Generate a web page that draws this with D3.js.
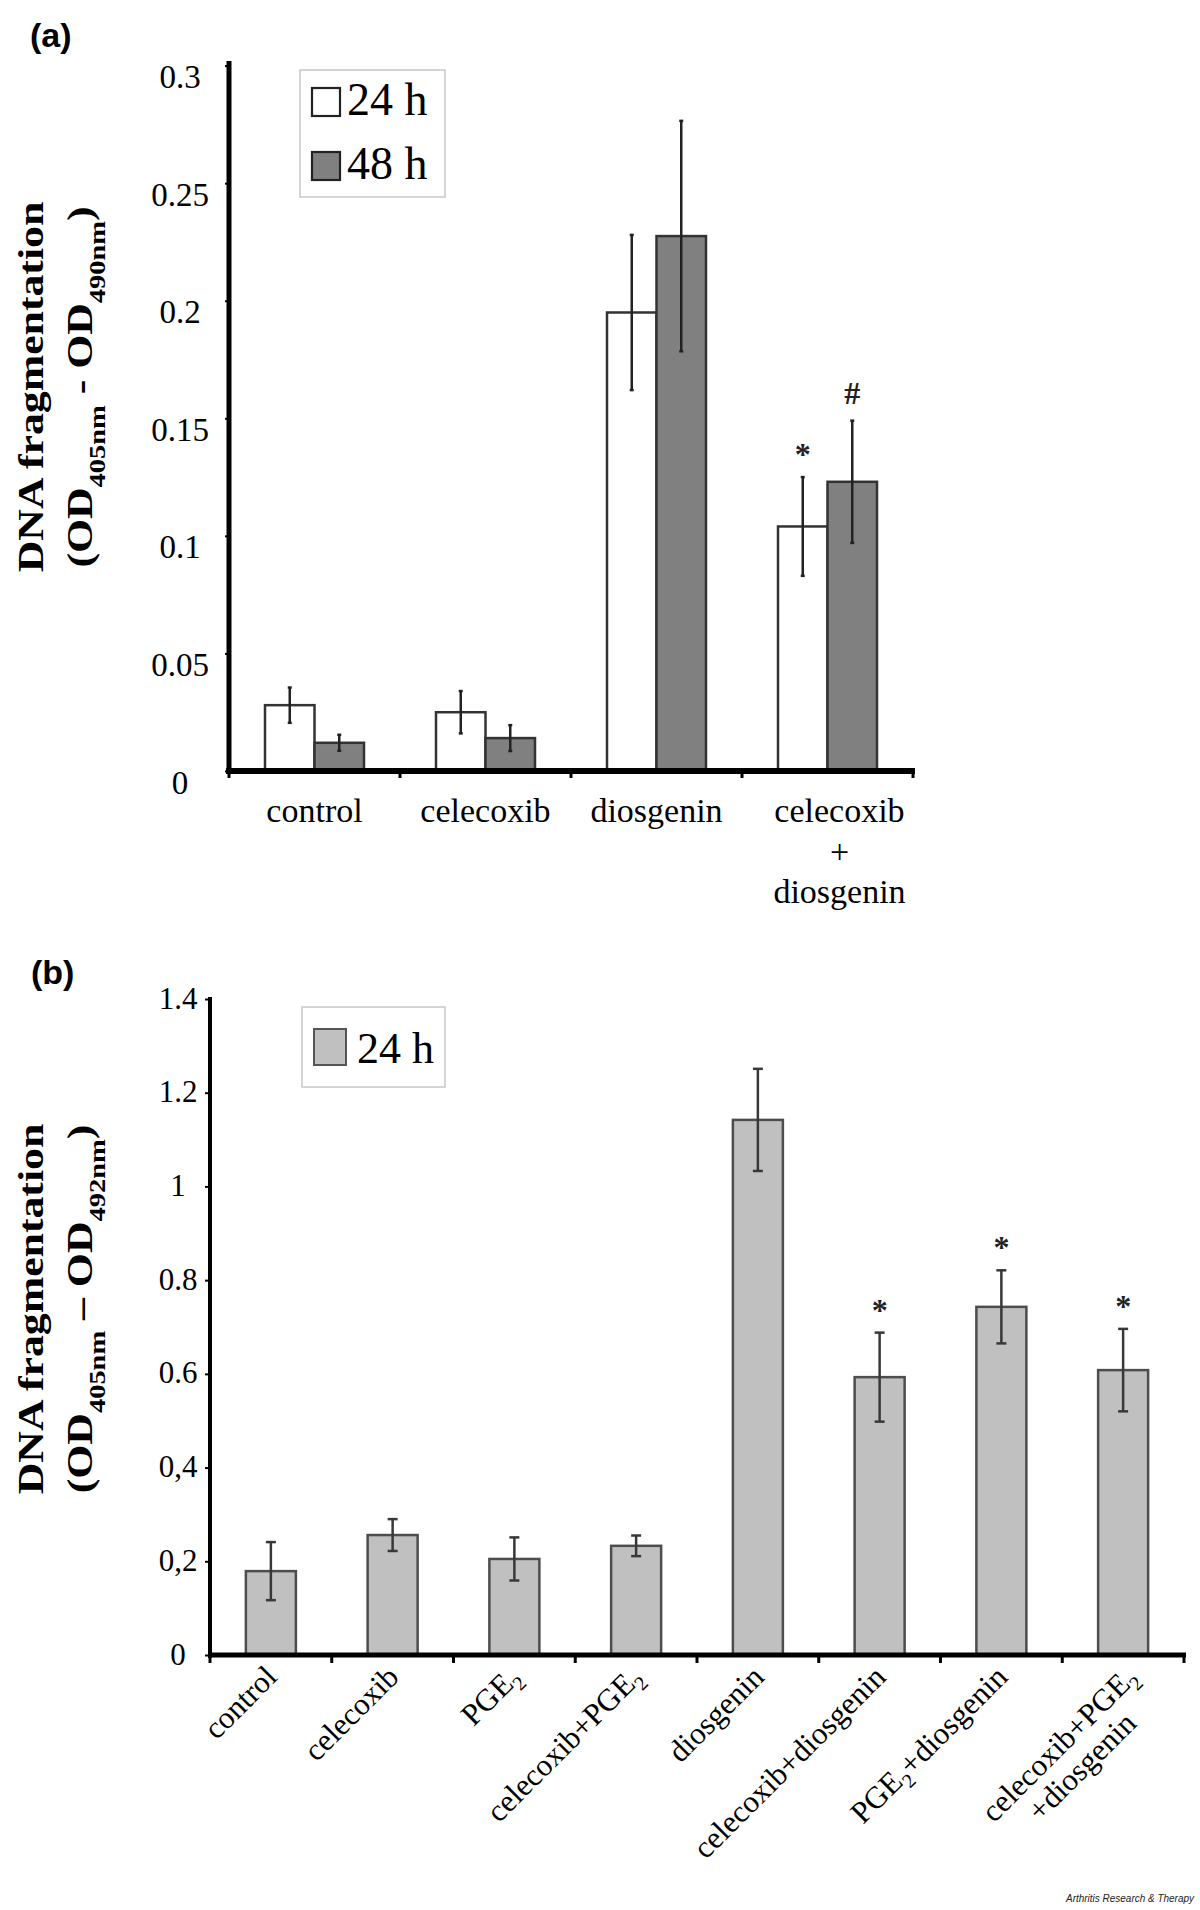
<!DOCTYPE html>
<html><head><meta charset="utf-8">
<script src="https://cdn.jsdelivr.net/npm/d3@7"></script>
<style>body{margin:0;background:#fff}svg{display:block}</style>
</head><body><svg id="c" width="1200" height="1910"></svg>
<script>
// ---------- data : panel (a) ----------
const catsA = ["control", "celecoxib", "diosgenin", "celecoxib\n+\ndiosgenin"];
const seriesNamesA = ["24 h", "48 h"];
const valsA24 = [0.028, 0.025, 0.195, 0.104];
const errA24  = [0.0075, 0.009, 0.033, 0.021];
const valsA48 = [0.012, 0.014, 0.2275, 0.123];
const errA48  = [0.0034, 0.0055, 0.049, 0.026];
const sigA24  = ["", "", "", "*"];
const sigA48  = ["", "", "", "#"];
const ticksA  = [0, 0.05, 0.1, 0.15, 0.2, 0.25, 0.3];
const tickLabelsA = ["0", "0.05", "0.1", "0.15", "0.2", "0.25", "0.3"];
const titleA = ["DNA fragmentation", "(OD_{405nm} - OD_{490nm})"];

// ---------- data : panel (b) ----------
const catsB = ["control", "celecoxib", "PGE_{2}", "celecoxib+PGE_{2}", "diosgenin",
               "celecoxib+diosgenin", "PGE_{2}+diosgenin", "celecoxib+PGE_{2}\n+diosgenin"];
const seriesNamesB = ["24 h"];
const valsB = [0.179, 0.256, 0.205, 0.233, 1.142, 0.593, 0.743, 0.608];
const errB  = [0.062, 0.034, 0.046, 0.022, 0.109, 0.095, 0.078, 0.088];
const sigB  = ["", "", "", "", "", "*", "*", "*"];
const ticksB = [0, 0.2, 0.4, 0.6, 0.8, 1, 1.2, 1.4];
const tickLabelsB = ["0", "0,2", "0,4", "0.6", "0.8", "1", "1.2", "1.4"];
const titleB = ["DNA fragmentation", "(OD_{405nm} \u2013 OD_{492nm})"];

// ---------- helpers ----------
const SERIF = "'Liberation Serif','Times New Roman',Times,serif";
const SANS  = "'Liberation Sans',Arial,Helvetica,sans-serif";
const svg = d3.select("#c");
svg.append("rect").attr("width", 1200).attr("height", 1910).attr("fill", "#fff");

function rich(textSel, str, basePx, subScale, subShift) {
  const parts = str.split(/(_\{[^}]*\})/).filter(s => s.length);
  let down = false;
  parts.forEach(p => {
    const m = p.match(/^_\{([^}]*)\}$/);
    const t = textSel.append("tspan");
    if (m) {
      t.text(m[1]).attr("font-size", basePx * subScale).attr("dy", down ? 0 : basePx * subShift);
      down = true;
    } else {
      t.text(p).attr("font-size", basePx).attr("dy", down ? -basePx * subShift : 0);
      down = false;
    }
  });
}

function yTitle(lines, cy, xs, fs, sx) {
  lines.forEach((ln, i) => {
    const t = svg.append("text")
      .attr("transform", `translate(${xs[i]},${cy}) rotate(-90) scale(${sx},1)`)
      .attr("text-anchor", "middle")
      .attr("font-family", SERIF).attr("font-weight", "bold").attr("fill", "#000");
    rich(t, ln, fs, 0.65, 0.36);
  });
}

function errBars(g, xs, vals, errs, y, cap, color, sw) {
  vals.forEach((v, i) => {
    const cx = xs[i], y1 = y(v + errs[i]), y2 = y(v - errs[i]);
    g.append("line").attr("x1", cx).attr("x2", cx).attr("y1", y1).attr("y2", y2)
      .attr("stroke", color).attr("stroke-width", sw);
    [y1, y2].forEach(yy => g.append("line").attr("x1", cx - cap / 2).attr("x2", cx + cap / 2)
      .attr("y1", yy).attr("y2", yy).attr("stroke", color).attr("stroke-width", sw));
  });
}

function sigMarks(g, xs, vals, errs, sigs, y, fs) {
  const c = {"*": 0.465, "#": 0.338};
  sigs.forEach((s, i) => {
    if (!s) return;
    g.append("text").attr("x", xs[i]).attr("y", y(vals[i] + errs[i]) - 27 + c[s] * fs)
      .attr("text-anchor", "middle").attr("font-family", SERIF).attr("font-size", fs)
      .attr("font-weight", "bold").attr("fill", "#222").text(s);
  });
}

// ================= PANEL (a) =================
svg.append("text").attr("x", 30).attr("y", 47).attr("font-family", SANS)
  .attr("font-weight", "bold").attr("font-size", 34).text("(a)");

const yA = d3.scaleLinear().domain([0, 0.3]).range([771, 65.6]);
const xA = d3.scaleBand().domain(catsA).range([229, 913]);
const bwA = 49.5;
const gA = svg.append("g");
const serA = [
  {vals: valsA24, errs: errA24, sig: sigA24, fill: "#ffffff", off: -1},
  {vals: valsA48, errs: errA48, sig: sigA48, fill: "#808080", off: 0}
];
serA.forEach(s => {
  gA.selectAll(null).data(catsA).enter().append("rect")
    .attr("x", d => xA(d) + xA.bandwidth() / 2 + s.off * bwA)
    .attr("y", (d, i) => yA(s.vals[i]))
    .attr("width", bwA)
    .attr("height", (d, i) => yA(0) - yA(s.vals[i]))
    .attr("fill", s.fill).attr("stroke", "#333").attr("stroke-width", 2.5);
});
serA.forEach(s => {
  const xs = catsA.map(d => xA(d) + xA.bandwidth() / 2 + s.off * bwA + bwA / 2);
  errBars(gA, xs, s.vals, s.errs, yA, 4, "#222", 2.5);
  sigMarks(gA, xs, s.vals, s.errs, s.sig, yA, 32);
});

// axes (a)
const axA = svg.append("g").attr("transform", "translate(229,0)")
  .call(d3.axisLeft(yA).tickValues(ticksA).tickSize(4).tickFormat((d, i) => tickLabelsA[i]));
axA.select(".domain").remove();
axA.selectAll(".tick line").attr("stroke", "#000").attr("stroke-width", 2);
axA.selectAll(".tick text").attr("x", -49).attr("dy", "0.67em").attr("text-anchor", "middle")
  .attr("font-family", SERIF).attr("font-size", 33).attr("fill", "#000");
svg.append("line").attr("x1", 229).attr("x2", 229).attr("y1", 61).attr("y2", 774)
  .attr("stroke", "#000").attr("stroke-width", 5);
svg.append("line").attr("x1", 226).attr("x2", 915).attr("y1", 771).attr("y2", 771)
  .attr("stroke", "#000").attr("stroke-width", 6);
const bndA = catsA.map(d => xA(d)).concat([xA.range()[1]]);
bndA.forEach(bx => svg.append("line").attr("x1", bx).attr("x2", bx).attr("y1", 771).attr("y2", 778)
  .attr("stroke", "#000").attr("stroke-width", 3));

// category labels (a)
catsA.forEach(c => {
  const lines = c.split("\n");
  lines.forEach((ln, j) => {
    svg.append("text").attr("x", xA(c) + xA.bandwidth() / 2 + (lines.length > 1 ? 12 : 0))
      .attr("y", 822 + j * 40.5).attr("text-anchor", "middle")
      .attr("font-family", SERIF).attr("font-size", 34).attr("fill", "#000").text(ln);
  });
});

// legend (a)
svg.append("rect").attr("x", 300).attr("y", 70).attr("width", 145).attr("height", 127)
  .attr("fill", "#fff").attr("stroke", "#c8c8c8").attr("stroke-width", 1.5);
seriesNamesA.forEach((nm, i) => {
  const yy = 88 + i * 64;
  svg.append("rect").attr("x", 312).attr("y", yy).attr("width", 28).attr("height", 28)
    .attr("fill", serA[i].fill).attr("stroke", "#222").attr("stroke-width", 2.2);
  svg.append("text").attr("x", 347).attr("y", yy + 27).attr("font-family", SERIF)
    .attr("font-size", 46).attr("fill", "#000").text(nm);
});

yTitle(titleA, 387, [43, 92], 35, 1.25);

// ================= PANEL (b) =================
svg.append("text").attr("x", 31).attr("y", 984).attr("font-family", SANS)
  .attr("font-weight", "bold").attr("font-size", 34).text("(b)");

const yB = d3.scaleLinear().domain([0, 1.4]).range([1655, 999]);
const xB = d3.scaleBand().domain(catsB).range([210, 1184]);
const bwB = 50;
const gB = svg.append("g");
gB.selectAll(null).data(catsB).enter().append("rect")
  .attr("x", d => xB(d) + xB.bandwidth() / 2 - bwB / 2)
  .attr("y", (d, i) => yB(valsB[i]))
  .attr("width", bwB)
  .attr("height", (d, i) => yB(0) - yB(valsB[i]))
  .attr("fill", "#c0c0c0").attr("stroke", "#4d4d4d").attr("stroke-width", 2.5);
const xsB = catsB.map(d => xB(d) + xB.bandwidth() / 2);
errBars(gB, xsB, valsB, errB, yB, 10, "#383838", 2.5);
sigMarks(gB, xsB, valsB, errB, sigB, yB, 32);

const axB = svg.append("g").attr("transform", "translate(210,0)")
  .call(d3.axisLeft(yB).tickValues(ticksB).tickSize(5).tickFormat((d, i) => tickLabelsB[i]));
axB.select(".domain").remove();
axB.selectAll(".tick line").attr("stroke", "#000").attr("stroke-width", 2);
axB.selectAll(".tick text").attr("x", -32).attr("dy", "0.29em").attr("text-anchor", "middle")
  .attr("font-family", SERIF).attr("font-size", 31).attr("fill", "#000");
svg.append("line").attr("x1", 210).attr("x2", 210).attr("y1", 997).attr("y2", 1658)
  .attr("stroke", "#000").attr("stroke-width", 4);
svg.append("line").attr("x1", 208).attr("x2", 1186).attr("y1", 1655).attr("y2", 1655)
  .attr("stroke", "#000").attr("stroke-width", 5);
const bndB = catsB.map(d => xB(d)).concat([xB.range()[1]]);
bndB.forEach(bx => svg.append("line").attr("x1", bx).attr("x2", bx).attr("y1", 1655).attr("y2", 1663)
  .attr("stroke", "#000").attr("stroke-width", 3));

// rotated labels (b)
catsB.forEach(c => {
  const lines = c.split("\n");
  const shiftX = lines.length > 1 ? 8 : 0;
  const g = svg.append("g").attr("transform", `translate(${xB(c) + xB.bandwidth() / 2 + shiftX},1671) rotate(-45)`);
  let L0 = 0;
  lines.forEach((ln, j) => {
    const t = g.append("text").attr("font-family", SERIF).attr("font-size", 31).attr("fill", "#000");
    rich(t, ln, 31, 0.65, 0.25);
    if (j === 0) {
      t.attr("text-anchor", "end").attr("transform", "translate(0,11)");
      L0 = t.node().getComputedTextLength();
    } else {
      t.attr("text-anchor", "middle").attr("transform", `translate(${-L0 / 2},${11 + j * 32})`);
    }
  });
});

// legend (b)
svg.append("rect").attr("x", 302).attr("y", 1007).attr("width", 143).attr("height", 80)
  .attr("fill", "#fff").attr("stroke", "#c8c8c8").attr("stroke-width", 1.5);
seriesNamesB.forEach(nm => {
  svg.append("rect").attr("x", 314).attr("y", 1029).attr("width", 32).attr("height", 36)
    .attr("fill", "#c0c0c0").attr("stroke", "#555").attr("stroke-width", 2);
  svg.append("text").attr("x", 357).attr("y", 1063).attr("font-family", SERIF)
    .attr("font-size", 44).attr("fill", "#000").text(nm);
});

yTitle(titleB, 1309, [43, 92], 35, 1.25);

// credit
svg.append("text").attr("x", 1194).attr("y", 1902).attr("text-anchor", "end")
  .attr("font-family", "'Liberation Sans Narrow','Arial Narrow',Arial,sans-serif")
  .attr("font-style", "italic").attr("font-size", 10.5).attr("fill", "#222")
  .attr("textLength", 128).attr("lengthAdjust", "spacingAndGlyphs")
  .text("Arthritis Research & Therapy");
</script>
</body></html>
